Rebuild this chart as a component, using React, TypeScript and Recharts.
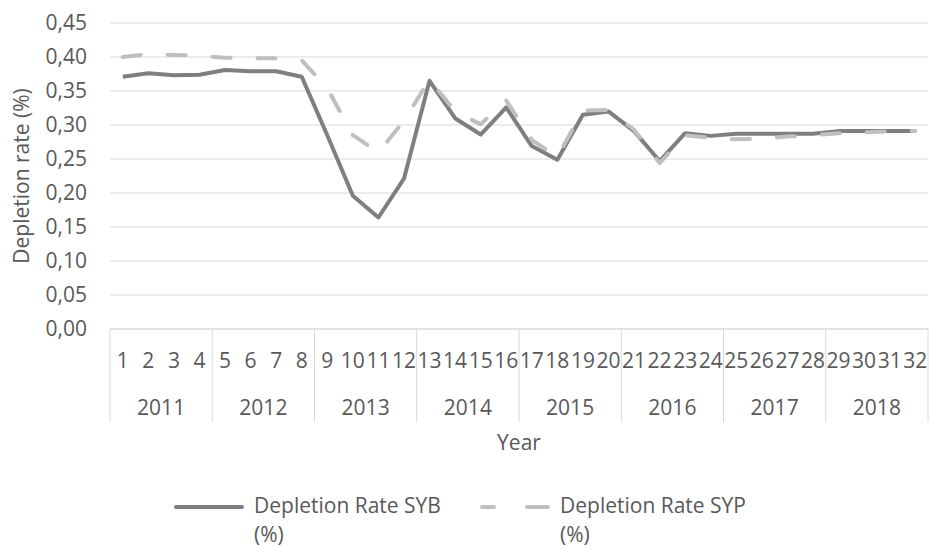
import * as React from "react"
import { LineChart, Line, XAxis, YAxis, CartesianGrid, Legend } from "recharts"

const quarterLabels = [
  "1", "2", "3", "4", "5", "6", "7", "8", "9", "10", "11", "12", "13", "14", "15", "16",
  "17", "18", "19", "20", "21", "22", "23", "24", "25", "26", "27", "28", "29", "30", "31", "32",
]
const yearLabels = ["2011", "2012", "2013", "2014", "2015", "2016", "2017", "2018"]

const sybValues = [
  0.371, 0.376, 0.373, 0.374, 0.381, 0.379, 0.379, 0.371,
  0.285, 0.196, 0.164, 0.221, 0.365, 0.310, 0.286, 0.326,
  0.269, 0.249, 0.315, 0.320, 0.291, 0.247, 0.288, 0.284,
  0.287, 0.287, 0.287, 0.287, 0.291, 0.291, 0.291, 0.291,
]
const sypValues = [
  0.400, 0.404, 0.403, 0.402, 0.399, 0.398, 0.398, 0.395,
  0.354, 0.285, 0.260, 0.306, 0.367, 0.320, 0.301, 0.336,
  0.278, 0.253, 0.321, 0.322, 0.293, 0.244, 0.285, 0.281,
  0.279, 0.280, 0.283, 0.285, 0.288, 0.289, 0.291, 0.291,
]
const yTicks = [0, 0.05, 0.1, 0.15, 0.2, 0.25, 0.3, 0.35, 0.4, 0.45]

const SYB = "Depletion Rate SYB (%)"
const SYP = "Depletion Rate SYP (%)"

const data = quarterLabels.map((q, i) => ({
  q,
  year: yearLabels[Math.floor(i / 4)],
  syb: sybValues[i],
  syp: sypValues[i],
}))

const W = 930
const H = 547
const LEFT = 110
const RIGHT = 2
const half = (W - LEFT - RIGHT) / quarterLabels.length / 2
const TEXT = "#595959"
const GRID = "#d9d9d9"
const C_SYB = "#7f7f7f"
const C_SYP = "#bfbfbf"

function QuarterTick(props: any) {
  const { x, y, payload, index } = props
  return (
    <g>
      {index % 4 === 0 && <line x1={x - half} x2={x - half} y1={y} y2={y + 93} stroke={GRID} />}
      {index === quarterLabels.length - 1 && (
        <line x1={x + half} x2={x + half} y1={y} y2={y + 93} stroke={GRID} />
      )}
      <text x={x} y={y + 39} textAnchor="middle" fill={TEXT} fontSize={21}>
        {payload.value}
      </text>
    </g>
  )
}

function YearTick(props: any) {
  const { x, y, index } = props
  if (index % 4 !== 1) return null
  return (
    <text x={x + half} y={y + 26} textAnchor="middle" fill={TEXT} fontSize={21}>
      {data[index].year}
    </text>
  )
}

function LegendBox() {
  const item = (name: string, dashed: boolean, gap: number) => (
    <div style={{ display: "flex", alignItems: "flex-start", marginRight: gap }}>
      <svg width={72} height={29} style={{ marginRight: 8 }}>
        {dashed ? (
          <g stroke={C_SYP} strokeWidth={4} strokeLinecap="round">
            <line x1={2} x2={14} y1={16} y2={16} />
            <line x1={47} x2={68} y1={16} y2={16} />
          </g>
        ) : (
          <line x1={2} x2={68} y1={16} y2={16} stroke={C_SYB} strokeWidth={4} strokeLinecap="round" />
        )}
      </svg>
      <div style={{ width: 200, color: TEXT, fontSize: 21, lineHeight: "29px" }}>
        {name.replace(" (%)", "")}
        <br />
        (%)
      </div>
    </div>
  )
  return (
    <div style={{ display: "flex", paddingLeft: 174 }}>
      {item(SYB, false, 26)}
      {item(SYP, true, 0)}
    </div>
  )
}

export default function App() {
  return (
    <div style={{ position: "absolute", left: 0, top: 0, fontFamily: "'Open Sans', sans-serif" }}>
      <LineChart width={W} height={H} data={data} margin={{ top: 23, right: RIGHT, left: 0, bottom: 65 }}>
        <CartesianGrid xAxisId="q" vertical={false} stroke={GRID} />
        <XAxis
          xAxisId="q"
          dataKey="q"
          height={60}
          interval={0}
          padding={{ left: half, right: half }}
          axisLine={{ stroke: GRID }}
          tickLine={false}
          tickSize={0}
          tickMargin={0}
          tick={<QuarterTick />}
        />
        <XAxis
          xAxisId="yr"
          dataKey="q"
          height={93}
          interval={0}
          padding={{ left: half, right: half }}
          axisLine={false}
          tickLine={false}
          tickSize={0}
          tickMargin={0}
          tick={<YearTick />}
          label={{ value: "Year", position: "insideTop", offset: 46, fill: TEXT, fontSize: 21 }}
        />
        <YAxis
          width={LEFT}
          domain={[0, 0.45]}
          ticks={yTicks}
          axisLine={false}
          tickLine={false}
          tickSize={0}
          tickMargin={23}
          tick={{ fill: TEXT, fontSize: 21 }}
          tickFormatter={(v: number) => v.toFixed(2).replace(".", ",")}
          label={{
            value: "Depletion rate (%)",
            angle: -90,
            position: "insideLeft",
            offset: 22,
            fill: TEXT,
            fontSize: 21,
            style: { textAnchor: "middle" },
          }}
        />
        <Line
          xAxisId="q"
          type="linear"
          dataKey="syb"
          name={SYB}
          stroke={C_SYB}
          strokeWidth={4}
          strokeLinejoin="round"
          dot={false}
          isAnimationActive={false}
        />
        <Line
          xAxisId="q"
          type="linear"
          dataKey="syp"
          name={SYP}
          stroke={C_SYP}
          strokeWidth={4}
          strokeDasharray="18 27"
          strokeLinecap="round"
          strokeLinejoin="round"
          dot={false}
          isAnimationActive={false}
        />
        <Legend
          verticalAlign="middle"
          align="center"
          wrapperStyle={{ top: 491, left: 0, width: W }}
          content={<LegendBox />}
        />
      </LineChart>
    </div>
  )
}
